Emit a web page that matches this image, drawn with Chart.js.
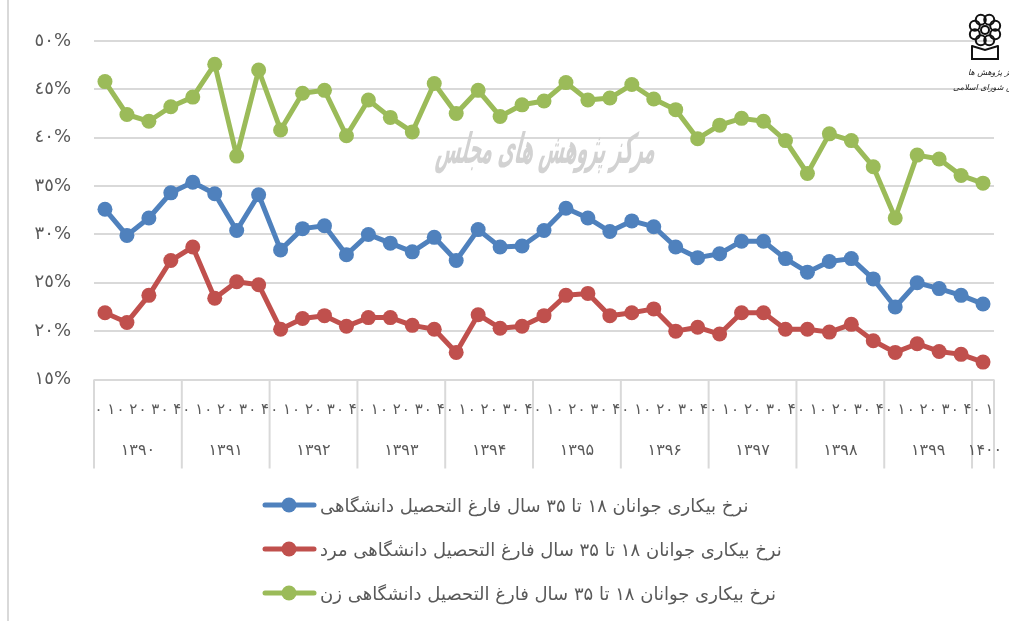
<!DOCTYPE html>
<html><head><meta charset="utf-8">
<style>html,body{margin:0;padding:0;background:#fff}canvas{display:block}</style>
<script src="https://cdn.jsdelivr.net/npm/chart.js@4"></script></head>
<body><canvas id="c" width="1009" height="621"></canvas>
<script>
const quarters=["۰ ۱","۰ ۲","۰ ۳","۰ ۴","۰ ۱","۰ ۲","۰ ۳","۰ ۴","۰ ۱","۰ ۲","۰ ۳","۰ ۴","۰ ۱","۰ ۲","۰ ۳","۰ ۴","۰ ۱","۰ ۲","۰ ۳","۰ ۴","۰ ۱","۰ ۲","۰ ۳","۰ ۴","۰ ۱","۰ ۲","۰ ۳","۰ ۴","۰ ۱","۰ ۲","۰ ۳","۰ ۴","۰ ۱","۰ ۲","۰ ۳","۰ ۴","۰ ۱","۰ ۲","۰ ۳","۰ ۴","۰ ۱"];
const years=["۱۳۹۰","۱۳۹۱","۱۳۹۲","۱۳۹۳","۱۳۹۴","۱۳۹۵","۱۳۹۶","۱۳۹۷","۱۳۹۸","۱۳۹۹","۱۴۰۰"];
const yearStartIndex=[0,4,8,12,16,20,24,28,32,36,40,41];
const yTicks={50:"٥٠%",45:"٤٥%",40:"٤٠%",35:"۳٥%",30:"۳٠%",25:"۲٥%",20:"۲٠%",15:"۱٥%"};
const seriesNames=["نرخ بیکاری جوانان ۱۸ تا ۳۵ سال فارغ التحصیل دانشگاهی","نرخ بیکاری جوانان ۱۸ تا ۳۵ سال فارغ التحصیل دانشگاهی مرد","نرخ بیکاری جوانان ۱۸ تا ۳۵ سال فارغ التحصیل دانشگاهی زن"];
const all=[32.6,29.9,31.7,34.3,35.4,34.2,30.4,34.1,28.4,30.6,30.9,27.9,30.0,29.1,28.2,29.7,27.3,30.5,28.7,28.8,30.4,32.7,31.7,30.3,31.4,30.8,28.7,27.6,28.0,29.3,29.3,27.5,26.1,27.2,27.5,25.4,22.5,25.0,24.4,23.7,22.8];
const male=[21.9,20.9,23.7,27.3,28.7,23.4,25.1,24.8,20.2,21.3,21.6,20.5,21.4,21.4,20.6,20.2,17.8,21.7,20.3,20.5,21.6,23.7,23.9,21.6,21.9,22.3,20.0,20.4,19.7,21.9,21.9,20.2,20.2,19.9,20.7,19.0,17.8,18.7,17.9,17.6,16.8];
const female=[45.8,42.4,41.7,43.2,44.2,47.6,38.1,47.0,40.8,44.6,44.9,40.2,43.9,42.1,40.6,45.6,42.5,44.9,42.2,43.4,43.8,45.7,43.9,44.1,45.5,44.0,42.9,39.9,41.3,42.0,41.7,39.7,36.3,40.4,39.7,37.0,31.7,38.2,37.8,36.1,35.3];
const colors=["#4F81BD","#C0504D","#9BBB59"];
const FONT='"DejaVu Sans"';
const decor={id:'decor',
 beforeDraw(ch){const c=ch.ctx;c.save();c.strokeStyle='#D9D9D9';c.lineWidth=2;c.beginPath();c.moveTo(8,0);c.lineTo(8,621);c.stroke();c.restore();},
 beforeDatasetsDraw(ch){const c=ch.ctx;c.save();
  c.translate(547,152);c.transform(1,0,-0.25,1,0,0);c.scale(0.61,1.45);
  c.fillStyle='#D2D2D2';c.font='bold 29px '+FONT;c.textAlign='center';c.textBaseline='middle';
  c.direction='rtl';c.fillText("مرکز پژوهش های مجلس",0,0);c.restore();},
 afterDraw(ch){const c=ch.ctx,x=ch.scales.x,y=ch.scales.y;c.save();
  const step=x.getPixelForValue(1)-x.getPixelForValue(0),top=y.bottom,bot=468.5;
  c.strokeStyle='#D9D9D9';c.lineWidth=2;
  yearStartIndex.forEach(i=>{const px=x.getPixelForValue(0)+step*(i-0.5);c.beginPath();c.moveTo(px,top);c.lineTo(px,bot);c.stroke();});
  c.save();c.fillStyle='#595959';c.font='16px '+FONT;c.textAlign='center';c.textBaseline='middle';c.letterSpacing='3.5px';
  years.forEach((t,k)=>{const a=yearStartIndex[k],b=yearStartIndex[k+1];let px=x.getPixelForValue(0)+step*((a+b)/2-0.5);if(k===10)px=985;c.fillText(t,px,451);});
  c.restore();
  const rows=[505,549,593];
  ch.data.datasets.forEach((d,i)=>{const ly=rows[i];c.strokeStyle=d.borderColor;c.lineWidth=5;c.lineCap='round';c.beginPath();c.moveTo(265,ly);c.lineTo(314,ly);c.stroke();
   c.fillStyle=d.borderColor;c.beginPath();c.arc(289,ly,7.5,0,Math.PI*2);c.fill();
   c.fillStyle='#595959';c.font='18px '+FONT;c.direction='rtl';c.textBaseline='middle';c.textAlign='left';c.fillText(d.label,320,ly+2);c.direction='ltr';});
  c.strokeStyle='#111';c.lineWidth=2;const cx=985,cy=33;
  for(let k=0;k<8;k++){const a=k*Math.PI/4+Math.PI/8;c.beginPath();c.arc(cx+11*Math.cos(a),cy-3+11*Math.sin(a),5,0,Math.PI*2);c.stroke();}
  c.beginPath();c.arc(cx,cy-3,4,0,Math.PI*2);c.stroke();
  c.beginPath();c.moveTo(972,46);c.lineTo(972,59);c.lineTo(998,59);c.lineTo(998,46);c.moveTo(972,46);c.lineTo(985,50);c.lineTo(998,46);c.stroke();
  c.fillStyle='#222';c.font='italic 8px '+FONT;c.direction='rtl';c.textAlign='left';
  c.fillText("مرکز پژوهش ها",968,73);c.fillText("مجلس شورای اسلامی",953,88);
  c.restore();}
};
new Chart(document.getElementById('c'),{type:'line',plugins:[decor],
 data:{labels:quarters,datasets:[all,male,female].map((v,i)=>({label:seriesNames[i],data:v,borderColor:colors[i],backgroundColor:colors[i],borderWidth:5,pointRadius:7.5,pointBorderWidth:0,pointHoverRadius:7.5,tension:0,borderCapStyle:'round',borderJoinStyle:'round'}))},
 options:{responsive:false,animation:false,layout:{padding:{top:41,right:15,left:0,bottom:0}},
  plugins:{legend:{display:false},tooltip:{enabled:false}},
  scales:{
   x:{offset:true,afterFit(s){s.height=241.5;},grid:{display:false},border:{display:false},ticks:{autoSkip:false,maxRotation:0,minRotation:0,padding:14,color:'#595959',font:{family:FONT,size:15}}},
   y:{min:15,max:50,afterFit(s){s.width=94;},border:{display:false},grid:{color:'#D9D9D9',lineWidth:2,drawTicks:false},
      afterBuildTicks(s){s.ticks=[50,45,40,35,30,25,20,15].map(v=>({value:v}));},
      ticks:{padding:23,color:'#595959',font:{family:FONT,size:18},callback:v=>yTicks[v]}}
  }}});
</script></body></html>
